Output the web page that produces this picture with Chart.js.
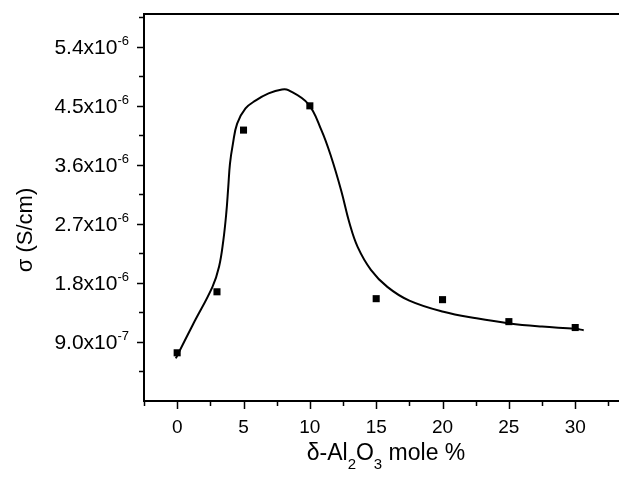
<!DOCTYPE html>
<html>
  <head>
    <meta charset="utf-8">
    <title>Conductivity vs Al2O3</title>
    <script src="https://cdn.jsdelivr.net/npm/chart.js@4.4.0/dist/chart.umd.min.js"></script>
    <style>
      html, body { margin: 0; padding: 0; background: #fff; }
      #wrap { width: 624px; height: 481px; }
    </style>
  </head>
  <body>
    <div id="wrap"><canvas id="chart0" width="624" height="481"></canvas></div>
    <script type="text/javascript">
      // measured points
      var molePct = [0, 3, 5, 10, 15, 20, 25, 30];
      var sigma = [0.735e-6, 1.665e-6, 4.13e-6, 4.50e-6, 1.56e-6, 1.545e-6, 1.21e-6, 1.12e-6];

      // fitted curve
      var fitX = [-0.1, 1.2, 2.66, 3.16, 3.48, 3.7, 3.85, 3.98, 4.2, 4.52, 5.15, 5.9, 6.89, 7.9, 8.38, 9.87, 10.87, 11.61, 12.36, 12.99, 13.6, 14.6, 15.84, 17.5, 20.07, 22.56, 25.05, 27.5, 30.02, 30.64];
      var fitY = [0.65e-6, 1.17e-6, 1.74e-6, 2.05e-6, 2.45e-6, 2.86e-6, 3.26e-6, 3.62e-6, 3.92e-6, 4.23e-6, 4.46e-6, 4.58e-6, 4.69e-6, 4.75e-6, 4.74e-6, 4.53e-6, 4.13e-6, 3.72e-6, 3.21e-6, 2.71e-6, 2.35e-6, 2.0e-6, 1.74e-6, 1.53e-6, 1.36e-6, 1.26e-6, 1.183e-6, 1.135e-6, 1.10e-6, 1.08e-6];

      // axes
      var xMajor = [0, 5, 10, 15, 20, 25, 30];
      var xMinor = [-2.5, 2.5, 7.5, 12.5, 17.5, 22.5, 27.5, 32.5];
      var yMajor = [0.9e-6, 1.8e-6, 2.7e-6, 3.6e-6, 4.5e-6, 5.4e-6];
      var yMajorMant = ['9.0', '1.8', '2.7', '3.6', '4.5', '5.4'];
      var yMajorExp = ['-7', '-6', '-6', '-6', '-6', '-6'];
      var yMinor = [0.45e-6, 1.35e-6, 2.25e-6, 3.15e-6, 4.05e-6, 4.95e-6, 5.85e-6];

      var FONT = 'Arial, "Liberation Sans", sans-serif';

      var axesPlugin = {
        id: 'originAxes',
        afterDraw: function (chart) {
          var c = chart.ctx, a = chart.chartArea;
          var xs = chart.scales.x, ys = chart.scales.y;
          c.save();
          c.strokeStyle = '#000';
          c.fillStyle = '#000';
          c.lineWidth = 2;
          // frame: left, bottom, top
          c.beginPath();
          c.moveTo(a.left, a.top); c.lineTo(a.left, a.bottom);
          c.moveTo(a.left - 1, a.bottom); c.lineTo(a.right, a.bottom);
          c.moveTo(a.left - 1, a.top); c.lineTo(a.right, a.top);
          c.stroke();

          c.lineWidth = 1.5;
          c.beginPath();
          xMajor.forEach(function (v) {
            var p = Math.round(xs.getPixelForValue(v)) + 0.5;
            c.moveTo(p, a.bottom); c.lineTo(p, a.bottom + 8);
          });
          xMinor.forEach(function (v) {
            var p = Math.round(xs.getPixelForValue(v)) + 0.5;
            c.moveTo(p, a.bottom); c.lineTo(p, a.bottom + 5);
          });
          yMajor.forEach(function (v) {
            var p = Math.round(ys.getPixelForValue(v)) + 0.5;
            c.moveTo(a.left, p); c.lineTo(a.left - 7, p);
          });
          yMinor.forEach(function (v) {
            var p = Math.round(ys.getPixelForValue(v)) + 0.5;
            c.moveTo(a.left, p); c.lineTo(a.left - 5, p);
          });
          c.stroke();

          // x tick labels
          c.font = '19px ' + FONT;
          c.textAlign = 'center';
          c.textBaseline = 'middle';
          xMajor.forEach(function (v) {
            c.fillText(String(v), xs.getPixelForValue(v), a.bottom + 27);
          });

          // y tick labels with superscript exponent
          yMajor.forEach(function (v, i) {
            var p = ys.getPixelForValue(v);
            c.font = '13px ' + FONT;
            var ew = c.measureText(yMajorExp[i]).width;
            c.textAlign = 'left';
            c.textBaseline = 'alphabetic';
            var expRight = 129;
            c.fillText(yMajorExp[i], expRight - ew, p - 2);
            c.font = '21px ' + FONT;
            c.textAlign = 'right';
            c.fillText(yMajorMant[i] + 'x10', expRight - ew, p + 7.5);
          });

          // x axis title with subscripts
          var parts = [['δ-Al', 0], ['2', 1], ['O', 0], ['3', 1], [' mole %', 0]];
          var total = 0;
          parts.forEach(function (pt) {
            c.font = (pt[1] ? '15px ' : '23px ') + FONT;
            total += c.measureText(pt[0]).width;
          });
          var cx = 386 - total / 2;
          c.textAlign = 'left';
          c.textBaseline = 'alphabetic';
          parts.forEach(function (pt) {
            c.font = (pt[1] ? '15px ' : '23px ') + FONT;
            c.fillText(pt[0], cx, pt[1] ? 469 : 460);
            cx += c.measureText(pt[0]).width;
          });

          // y axis title
          c.translate(26, 230);
          c.rotate(-Math.PI / 2);
          c.font = '22px ' + FONT;
          c.textAlign = 'center';
          c.textBaseline = 'middle';
          c.fillText('σ (S/cm)', 0, 0);
          c.restore();
        }
      };

      var ctx0 = document.getElementById('chart0').getContext('2d');
      var chart0 = new Chart(ctx0, {
        type: 'scatter',
        data: {
          datasets: [{
            label: 'data',
            data: molePct.map(function (x, i) { return { x: x, y: sigma[i] }; }),
            pointStyle: 'rect',
            pointRadius: 5,
            backgroundColor: '#000',
            borderColor: '#000',
            borderWidth: 0,
            showLine: false
          }, {
            label: 'fit',
            data: fitX.map(function (x, i) { return { x: x, y: fitY[i] }; }),
            showLine: true,
            pointRadius: 0,
            borderColor: '#000',
            borderWidth: 2,
            tension: 0.4,
            fill: false
          }]
        },
        options: {
          responsive: false,
          animation: false,
          events: [],
          layout: { padding: { left: 144, top: 14, right: 0, bottom: 80 } },
          plugins: { legend: { display: false }, tooltip: { enabled: false } },
          scales: {
            x: {
              type: 'linear', min: -2.5, max: 33.3,
              grid: { display: false }, border: { display: false },
              ticks: { display: false },
              afterFit: function (s) { s.height = 0; }
            },
            y: {
              type: 'linear', min: 0, max: 5.9e-6,
              grid: { display: false }, border: { display: false },
              ticks: { display: false },
              afterFit: function (s) { s.width = 0; }
            }
          }
        },
        plugins: [axesPlugin]
      });
    </script>
  </body>
</html>
